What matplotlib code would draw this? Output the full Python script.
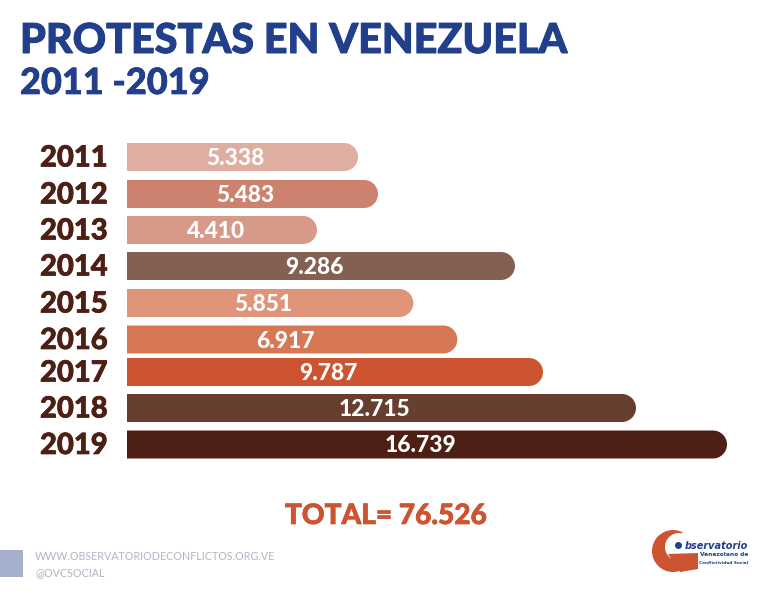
import matplotlib
matplotlib.use("Agg")
import matplotlib.patheffects as pe
import matplotlib.pyplot as plt
from matplotlib.patches import PathPatch, Rectangle, Wedge, Circle, Polygon
from matplotlib.path import Path

years = ["2011", "2012", "2013", "2014", "2015", "2016", "2017", "2018", "2019"]
labels = ["5.338", "5.483", "4.410", "9.286", "5.851", "6.917", "9.787", "12.715", "16.739"]
# drawn lengths, the bars in the source are not to scale with their labels
lengths = [6445, 7003, 5301, 10824, 7988, 9216, 11605, 14200, 16739]
centers = [157, 194, 230, 266, 303, 339.5, 372, 408, 444.5]
colors = ["#deaea0", "#cd8270", "#d79a88", "#836052", "#e09479", "#d67853", "#cc5430", "#683e31", "#4e2015"]

BLUE = "#213f8b"
BROWN = "#4e2015"
ORANGE = "#cc5430"
FONT = ["Lato", "DejaVu Sans"]
W, H = 768, 594


def rounded_bar(x0, x1, yc, half, rx):
    k = 0.5523
    verts = [
        (x0, yc - half), (x1 - rx, yc - half),
        (x1 - rx + k * rx, yc - half), (x1, yc - k * half), (x1, yc),
        (x1, yc + k * half), (x1 - rx + k * rx, yc + half), (x1 - rx, yc + half),
        (x0, yc + half), (x0, yc - half),
    ]
    codes = [Path.MOVETO, Path.LINETO, Path.CURVE4, Path.CURVE4, Path.CURVE4,
             Path.CURVE4, Path.CURVE4, Path.CURVE4, Path.LINETO, Path.CLOSEPOLY]
    return Path(verts, codes)


def heavy(color, width=0.5):
    return [pe.withStroke(linewidth=width, foreground=color)]


def main():
    fig = plt.figure(figsize=(W / 100, H / 100), dpi=100, facecolor="white")

    # page axes in pixel coordinates for titles and footer
    page = fig.add_axes([0, 0, 1, 1])
    page.set_xlim(0, W)
    page.set_ylim(H, 0)
    page.axis("off")

    page.text(20, 53, "PROTESTAS EN VENEZUELA", color=BLUE, fontsize=29.7, fontweight="black",
              family=FONT, va="baseline", ha="left", path_effects=heavy(BLUE, 0.7))
    page.text(20, 94, "2011 -2019", color=BLUE, fontsize=26, fontweight="black",
              family=FONT, va="baseline", ha="left", path_effects=heavy(BLUE))

    # bar axes: starts at x=127px, 600px wide for the longest bar
    ax = fig.add_axes([127 / W, 0, 600 / W, 1])
    ax.set_xlim(0, max(lengths))
    ax.set_ylim(H, 0)
    ax.axis("off")
    per_px = max(lengths) / 600
    for year, label, length, yc, color in zip(years, labels, lengths, centers, colors):
        ax.add_patch(PathPatch(rounded_bar(0, length, yc, 14, 14 * per_px), facecolor=color, edgecolor="none"))
        ax.text(length / 2 - 7 * per_px, yc + 8, label, color="white", fontsize=16.4, fontweight="black",
                family=FONT, ha="center", va="baseline")
        page.text(40, yc + 9.5, year, color=BROWN, fontsize=21, fontweight="black",
                  family=FONT, ha="left", va="baseline", path_effects=heavy(BROWN))

    page.text(385.5, 524, "TOTAL= 76.526", color=ORANGE, fontsize=20.2, fontweight="black",
              family=FONT, ha="center", va="baseline", path_effects=heavy(ORANGE))

    # footer
    page.add_patch(Rectangle((0, 550), 23, 27, facecolor="#a4afcb", edgecolor="none"))
    page.text(35, 556.5, "WWW.OBSERVATORIODECONFLICTOS.ORG.VE", color="#b0b5c3", fontsize=7.75,
              family=FONT, va="center", ha="left")
    page.text(35, 572.5, "@OVCSOCIAL", color="#b0b5c3", fontsize=7.75, family=FONT, va="center", ha="left")

    # logo
    page.add_patch(Circle((673, 551), 21, facecolor=ORANGE, edgecolor="none"))
    page.add_patch(Circle((679, 547), 14, facecolor="white", edgecolor="none"))
    page.add_patch(Wedge((673, 551), 23, -62, 15, facecolor="white", edgecolor="none"))
    page.add_patch(Polygon([(668, 554), (698, 553), (698, 569), (680, 572)], facecolor=ORANGE, edgecolor="none"))
    page.add_patch(Circle((678.5, 545.5), 3.5, facecolor=BLUE, edgecolor="none"))
    page.text(685, 546, "bservatorio", color=BLUE, fontsize=7.0, style="italic", fontweight="bold",
              family=["DejaVu Sans"], va="center", ha="left")
    page.text(748, 554.5, "Venezolano de", color=BLUE, fontsize=4.2, fontweight="bold",
              family=["DejaVu Sans"], va="center", ha="right")
    page.text(748, 563, "Conflictividad Social", color=BLUE, fontsize=3.1, fontweight="bold",
              family=["DejaVu Sans"], va="center", ha="right")

    fig.savefig("out.png", dpi=100)


if __name__ == "__main__":
    main()
